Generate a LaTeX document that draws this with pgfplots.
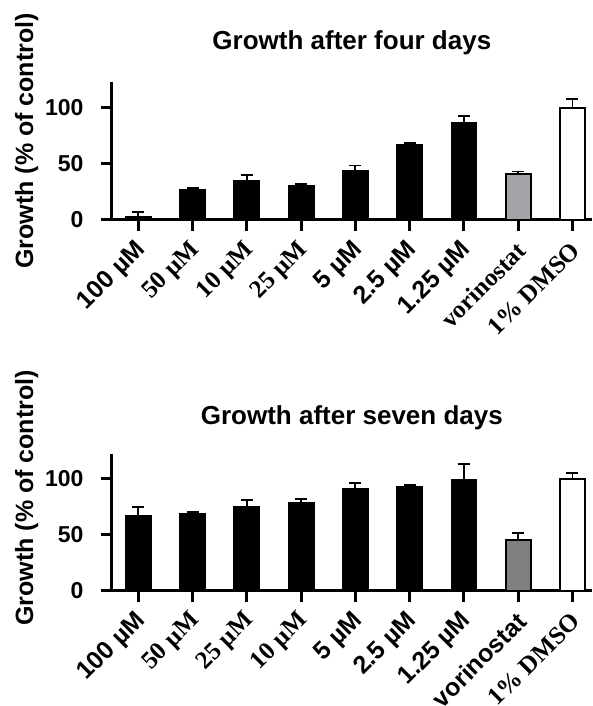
\documentclass[border=0pt]{standalone}
\usepackage{fontspec}
\setmainfont{Liberation Sans}
\newfontfamily\tm{Liberation Serif}
\usepackage{pgfplots}
\pgfplotsset{compat=1.18}
\definecolor{vorA}{HTML}{A4A4A8}
\definecolor{vorB}{HTML}{808080}

\pgfplotsset{mystyle/.style={
  scale only axis, width=480.3pt,
  axis x line=bottom, axis y line=left,
  axis line style={line width=3pt, -},
  xmin=-0.49, xmax=8.36, ymin=0,
  ytick={0,50,100}, xtick={0,...,8},
  tick align=outside, major tick length=11pt,
  every tick/.style={line width=3pt, black},
  /pgf/number format/assume math mode=true,
  yticklabel style={font=\fontsize{23}{27}\selectfont\bfseries, inner sep=2pt, xshift=-15pt},
  xticklabel style={font=\fontsize{25}{29}\selectfont\bfseries, xshift=5pt, yshift=-14pt, rotate=45, anchor=east, inner sep=2pt},
  title style={font=\fontsize{26}{30}\selectfont\bfseries, anchor=base},
  ylabel style={font=\fontsize{25}{29}\selectfont\bfseries, rotate=0, anchor=center},
  ylabel={Growth (\% of control)},
  clip=false,
  every axis plot/.append style={ybar, bar width=25pt, bar shift=0pt, line width=1.8pt, draw=black,
    error bars/y dir=plus, error bars/y explicit,
    error bars/error bar style={line width=1.8pt, black},
    error bars/error mark options={line width=1.8pt, mark size=6pt, black, rotate=90}},
}}

\begin{document}
\begin{tikzpicture}
\path[use as bounding box] (0,0) rectangle (592pt,706pt);

\begin{axis}[mystyle, at={(111.7pt,486pt)}, anchor=south west,
  height=137.7pt, ymax=122,
  title={Growth after four days},
  title style={at={(axis description cs:0.5,1.196)}},
  ylabel style={at={(axis description cs:-0.177,0.574)}},
  xticklabels={{100 µM},{\tm 50 µM},{\tm 10 µM},{\tm 25 µM},{5 µM},{2.5 µM},{1.25 µM},{\tm vorinostat},{\tm 1\% DMSO}},
]
\addplot[fill=black] coordinates {
  (0,3.0) +- (0,4.1)
  (1,26.3) +- (0,2.1)
  (2,34.9) +- (0,5.0)
  (3,30.2) +- (0,1.8)
  (4,43.5) +- (0,4.7)
  (5,66.6) +- (0,1.5)
  (6,86.4) +- (0,5.6)
};
\addplot[fill=vorA] coordinates {(7,41.1) +- (0,1.8)};
\addplot[fill=white] coordinates {(8,99.3) +- (0,7.6)};
\end{axis}

\begin{axis}[mystyle, at={(111.7pt,115.3pt)}, anchor=south west,
  height=136.4pt, ymax=121.4,
  title={Growth after seven days},
  title style={at={(axis description cs:0.5,1.172)}},
  ylabel style={at={(axis description cs:-0.177,0.68)}},
  xticklabels={{100 µM},{\tm 50 µM},{\tm 25 µM},{\tm 10 µM},{5 µM},{2.5 µM},{1.25 µM},{vorinostat},{\tm 1\% DMSO}},
]
\addplot[fill=black] coordinates {
  (0,66.2) +- (0,8.3)
  (1,68.5) +- (0,1.2)
  (2,74.5) +- (0,6.5)
  (3,77.7) +- (0,4.2)
  (4,90.2) +- (0,5.9)
  (5,92.0) +- (0,2.1)
  (6,98.2) +- (0,14.6)
};
\addplot[fill=vorB] coordinates {(7,45.1) +- (0,6.2)};
\addplot[fill=white] coordinates {(8,99.4) +- (0,5.3)};
\end{axis}
\end{tikzpicture}
\end{document}
